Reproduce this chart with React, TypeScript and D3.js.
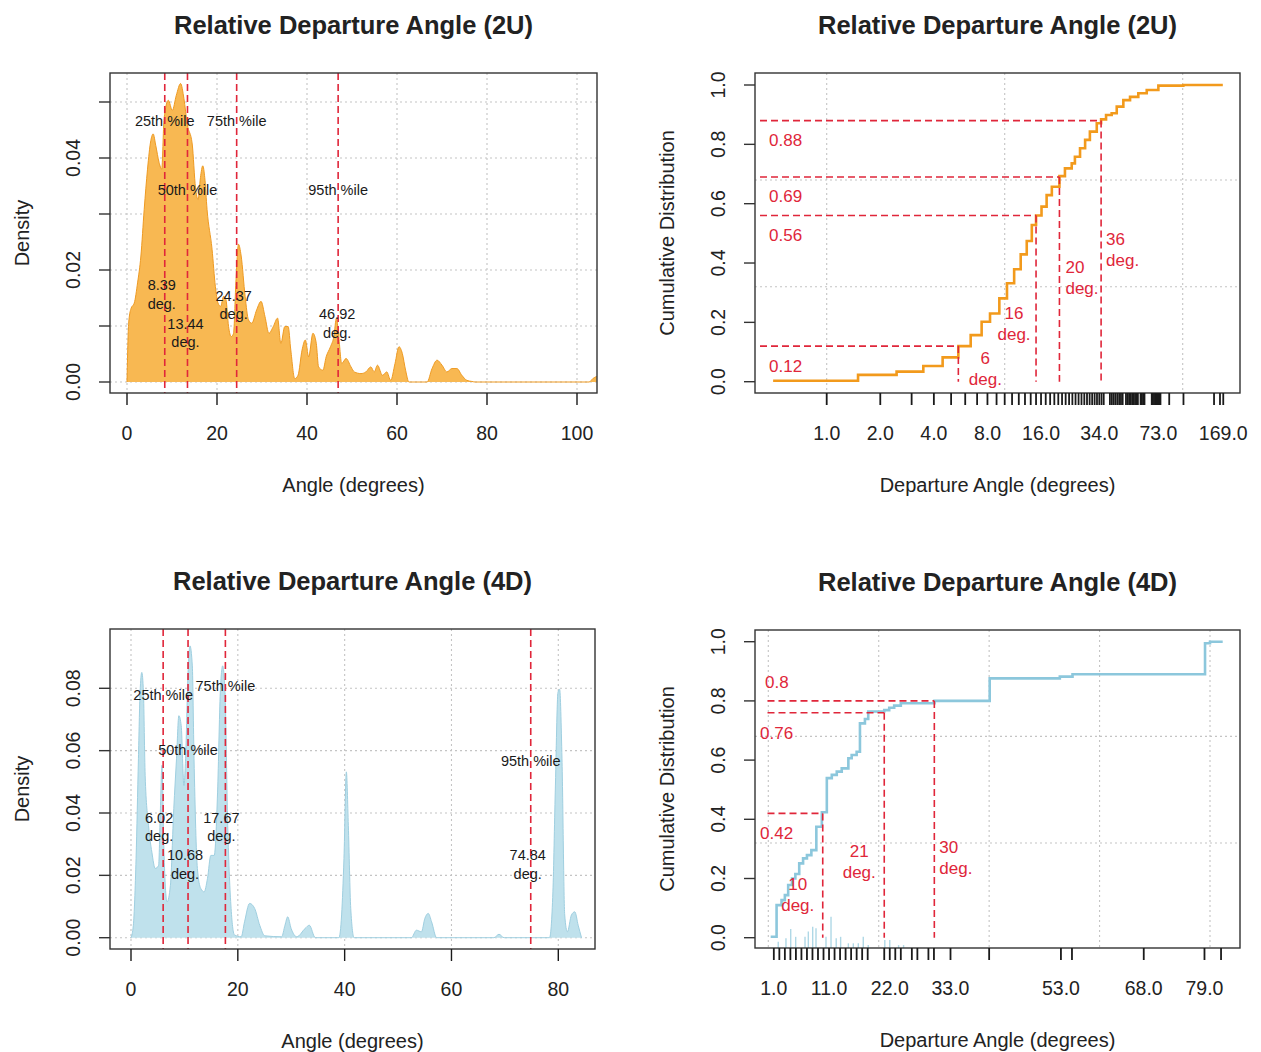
import React from 'react';
import * as d3 from 'd3';

// ---------- data ----------
// kernel density, 2U (angle in degrees, density)
const density2U: [number, number][] = [
  [0, 0], [0.37, 0.0105], [0.88, 0.0131], [1.62, 0.0141], [2.35, 0.0177], [3.09, 0.0225],
  [3.82, 0.0308], [4.56, 0.038], [5.29, 0.0431], [5.81, 0.0443], [6.4, 0.0422], [7.13, 0.0392],
  [7.72, 0.038], [8.24, 0.047], [9.19, 0.0503], [10.07, 0.0485], [10.96, 0.0512], [11.91, 0.0533],
  [12.65, 0.0506], [13.38, 0.0461], [14.49, 0.0425], [15.22, 0.0347], [15.81, 0.0326], [16.32, 0.0365],
  [16.84, 0.0386], [17.28, 0.0365], [17.79, 0.0308], [18.9, 0.0237], [19.63, 0.0171], [20.22, 0.0141],
  [20.81, 0.0135], [21.47, 0.0153], [21.99, 0.0147], [22.57, 0.0099], [23.16, 0.0081], [23.68, 0.0087],
  [24.19, 0.0177], [24.78, 0.0246], [25.37, 0.0225], [26.25, 0.0153], [26.99, 0.0111], [27.72, 0.0105],
  [28.82, 0.0129], [29.78, 0.0144], [30.66, 0.0117], [31.54, 0.0087], [32.5, 0.0099], [33.46, 0.0114],
  [34.19, 0.0069], [35.07, 0.0099], [35.81, 0.0099], [36.4, 0.0057], [37.28, 0.0006], [38.01, 0.0012],
  [38.9, 0.0057], [39.63, 0.0075], [40.37, 0.0045], [41.32, 0.0087], [42.06, 0.0069], [42.57, 0.0027],
  [43.53, 0.0021], [44.26, 0.0045], [45.22, 0.0063], [45.96, 0.0081], [46.54, 0.0114], [46.99, 0.0087],
  [47.72, 0.0033], [48.68, 0.0042], [49.78, 0.0027], [50.51, 0.0018], [51.99, 0.0015], [53.09, 0.0018],
  [54.19, 0.0027], [54.93, 0.0018], [55.66, 0.003], [56.76, 0.0012], [57.72, 0.0018], [58.6, 0.0003],
  [59.56, 0.0033], [60.44, 0.0063], [61.18, 0.0051], [61.91, 0.0021], [62.65, 0], [66.69, 0],
  [67.79, 0.0024], [68.9, 0.0039], [70.0, 0.003], [71.1, 0.0018], [72.21, 0.0024], [73.31, 0.0024],
  [74.41, 0.0012], [75.51, 0.0003], [76.62, 0.0001], [77.35, 0], [102.7, 0], [103.5, 0.0006], [104.4, 0.001],
];

// kernel density, 4D
const density4D: [number, number][] = [
  [0, 0], [0.44, 0.004], [0.95, 0.0254], [1.39, 0.0574], [1.7, 0.0787], [2.02, 0.0851], [2.33, 0.0787],
  [2.65, 0.0521], [3.28, 0.036], [3.91, 0.0274], [4.54, 0.0222], [5.17, 0.0232], [5.49, 0.0403],
  [5.8, 0.0553], [6.12, 0.0307], [6.75, 0.0115], [7.38, 0.0168], [8.01, 0.0414], [8.52, 0.0574],
  [8.96, 0.0712], [9.4, 0.068], [9.91, 0.0488], [10.22, 0.0574], [10.66, 0.084], [11.04, 0.0936],
  [11.48, 0.0872], [11.8, 0.0574], [12.43, 0.0222], [13.06, 0.0158], [13.69, 0.0147], [14.32, 0.019],
  [14.95, 0.0264], [15.58, 0.0264], [16.21, 0.0467], [16.72, 0.0787], [17.16, 0.0872], [17.6, 0.0787],
  [18.11, 0.036], [18.74, 0.0094], [19.37, 0.0009], [20.63, 0.0003], [21.26, 0.0051], [22.21, 0.011],
  [23.15, 0.0094], [24.1, 0.004], [25.05, 0.0006], [28.2, 0.0003], [28.83, 0.004], [29.34, 0.0067],
  [29.97, 0.003], [31.04, 0.0003], [32.62, 0.003], [33.38, 0.004], [34.51, 0], [38.93, 0],
  [39.43, 0.0073], [39.87, 0.0254], [40.32, 0.0532], [40.69, 0.036], [41.14, 0.0094], [41.77, 0],
  [52.49, 0], [53.44, 0.0024], [54.38, 0.0019], [55.02, 0.0062], [55.65, 0.0078], [56.28, 0.0051],
  [57.22, 0], [67.95, 0], [68.9, 0.0011], [69.84, 0], [78.36, 0], [78.99, 0.0147], [79.43, 0.0467],
  [79.94, 0.0787], [80.25, 0.0797], [80.69, 0.0574], [81.2, 0.0073], [81.7, 0.0019], [82.46, 0.0073],
  [83.09, 0.0083], [83.72, 0.004], [84.35, 0],
];

const pctNames = ['25th %ile', '50th %ile', '75th %ile', '95th %ile'];
const quantiles2U = [8.39, 13.44, 24.37, 46.92];
const quantiles4D = [6.02, 10.68, 17.67, 74.84];

// empirical CDF steps (angle, cumulative proportion)
const ecdf2U: [number, number][] = [
  [0.5, 0.003], [1.5, 0.023], [2.47, 0.034], [3.49, 0.053], [4.48, 0.082], [5.49, 0.12], [6.44, 0.157],
  [7.42, 0.202], [8.27, 0.23], [9.33, 0.281], [10.3, 0.332], [11.3, 0.379], [12.3, 0.429], [13.3, 0.474],
  [14.2, 0.528], [15.0, 0.56], [16.1, 0.59], [17.2, 0.629], [18.4, 0.657], [20.3, 0.693], [21.8, 0.719],
  [23.8, 0.736], [24.8, 0.758], [26.5, 0.787], [28.3, 0.815], [30.1, 0.843], [32.9, 0.871], [34.8, 0.884],
  [37.1, 0.899], [39.9, 0.905], [42.6, 0.927], [46.4, 0.949], [50.6, 0.96], [56.3, 0.972], [62.8, 0.983],
  [73, 0.998], [100.8, 1.0], [168, 1.0],
];
const ecdf4D: [number, number][] = [
  [0.43, 0.003], [1.5, 0.11], [2.4, 0.127], [3.0, 0.144], [3.6, 0.178], [4.3, 0.2], [4.9, 0.215],
  [5.6, 0.251], [6.3, 0.268], [7.0, 0.279], [7.8, 0.296], [8.7, 0.375], [9.7, 0.424], [10.6, 0.539],
  [11.5, 0.55], [12.4, 0.561], [13.3, 0.572], [14.5, 0.606], [15.1, 0.617], [16.0, 0.628], [16.6, 0.724],
  [17.5, 0.739], [18.1, 0.764], [21.0, 0.769], [21.9, 0.777], [22.8, 0.784], [24.0, 0.792], [30.1, 0.8],
  [40.1, 0.876], [52.8, 0.882], [55.1, 0.89], [79.1, 0.995], [80.0, 1.0], [82.3, 1.0],
];

// light-blue spikes at the bottom of the 4D CDF (angle, top)
const spikes4D: [number, number][] = [
  [1.8, -0.0135], [3.2, -0.002], [4.06, 0.029], [4.96, 0.003], [6.65, 0.003], [7.25, 0.021],
  [8.04, 0.037], [8.64, 0.032], [10.45, 0.003], [11.36, 0.071], [12.3, -0.002], [13.1, 0.003],
  [14.5, -0.019], [15.4, -0.019], [16.3, -0.019], [17.2, 0.003], [18.1, -0.025], [21.1, -0.008],
  [22.0, -0.008], [23.6, -0.025], [24.5, -0.025],
];

const cdfProb2U = [0.12, 0.56, 0.69, 0.88];
const cdfAngle2U = [5.49, 15.0, 20.3, 34.8];
const cdfDeg2U = ['6', '16', '20', '36'];
const cdfProb4D = [0.42, 0.76, 0.8];
const cdfAngle4D = [9.86, 21.0, 30.07];
const cdfDeg4D = ['10', '21', '30'];

// axis ticks at observed angles
const rugTicks2U = [
  ...d3.range(1, 37), ...d3.range(39, 47), ...d3.range(48, 57), ...d3.range(58, 62), ...d3.range(67, 76),
  84, 101, 150, 162, 169,
];
const rugLabels2U = [1, 2, 4, 8, 16, 34, 73, 169];
const rugTicks4D = [...d3.range(1, 19), 21, 22, 23, 24, 26, 27, 29, 30, 33, 40, 53, 55, 68, 79, 82];
const rugLabels4D = [1, 11, 22, 33, 53, 68, 79];

const dens2UTicks = [0, 0.01, 0.02, 0.03, 0.04, 0.05];
const dens2ULabels = [0, 0.02, 0.04];
const dens4DTicks = [0, 0.02, 0.04, 0.06, 0.08];
const angleTicks2U = [0, 20, 40, 60, 80, 100];
const angleTicks4D = [0, 20, 40, 60, 80];
const cdfTicks = [0, 0.2, 0.4, 0.6, 0.8, 1.0];

// ---------- label layout ----------
const pctLabelY2U = [0.0466, 0.0343, 0.0466, 0.0343];
const valLabelY2U = [0.0173, 0.0104, 0.0154, 0.0121];
const valDx2U = [-3, -2, -3, -1];
const pctLabelY4D = [0.0778, 0.0602, 0.0808, 0.0567];
const valLabelY4D = [0.0384, 0.0265, 0.0384, 0.0265];
const valDx4D = [-4, -3, -4, -3];

const degLayout2U = [
  { anchor: 'middle', dx: 27, p: 0.08 },
  { anchor: 'middle', dx: -22, p: 0.2316 },
  { anchor: 'start', dx: 6, p: 0.387 },
  { anchor: 'start', dx: 5, p: 0.481 },
];
const probDy2U = [20, 20, 20, 20];
const degLayout4D = [
  { anchor: 'middle', dx: -25, p: 0.18 },
  { anchor: 'middle', dx: -25, p: 0.293 },
  { anchor: 'start', dx: 5, p: 0.307 },
];
const probDy4D = [20, 21, -18];

const FONT = "'Liberation Sans', Arial, Helvetica, sans-serif";
const RED = '#E0263A';
const GRID = '#C4C4C4';

type Box = { l: number; r: number; t: number; b: number };

function Frame({ box }: { box: Box }) {
  return (
    <rect x={box.l} y={box.t} width={box.r - box.l} height={box.b - box.t}
      fill="none" stroke="#333" strokeWidth={1.4} />
  );
}

function Titles({ box, title, xTitle, yTitle }: { box: Box; title: string; xTitle: string; yTitle: string }) {
  const cx = (box.l + box.r) / 2;
  const cy = (box.t + box.b) / 2;
  const yx = box.l - 88;
  return (
    <g fontFamily={FONT} fill="#222">
      <text x={cx} y={box.t - 48} textAnchor="middle" dominantBaseline="central"
        fontSize={25.5} fontWeight="bold">{title}</text>
      <text x={cx} y={box.b + 92} textAnchor="middle" dominantBaseline="central" fontSize={20}>{xTitle}</text>
      <text transform={`translate(${yx},${cy}) rotate(-90)`} textAnchor="middle"
        dominantBaseline="central" fontSize={20}>{yTitle}</text>
    </g>
  );
}

function YAxis({ box, y, ticks, labels, fmt }: any) {
  return (
    <g fontFamily={FONT} fill="#222">
      {ticks.map((t: number) => (
        <line key={'t' + t} x1={box.l} x2={box.l - 11} y1={y(t)} y2={y(t)} stroke="#333" strokeWidth={1.4} />
      ))}
      {labels.map((t: number) => (
        <text key={'l' + t} transform={`translate(${box.l - 37},${y(t)}) rotate(-90)`}
          textAnchor="middle" dominantBaseline="central" fontSize={19.5}>{fmt(t)}</text>
      ))}
    </g>
  );
}

function XAxis({ box, x, ticks, labels, fmt, tickWidth }: any) {
  return (
    <g fontFamily={FONT} fill="#222">
      {ticks.map((t: number) => (
        <line key={'t' + t} x1={x(t)} x2={x(t)} y1={box.b} y2={box.b + 12} stroke="#1a1a1a" strokeWidth={tickWidth || 1.4} />
      ))}
      {labels.map((t: number) => (
        <text key={'l' + t} x={x(t)} y={box.b + 40} textAnchor="middle" dominantBaseline="central"
          fontSize={19.5}>{fmt(t)}</text>
      ))}
    </g>
  );
}

function Grid({ box, x, y, xs, ys }: any) {
  return (
    <g stroke={GRID} strokeWidth={1.1} strokeDasharray="2,3">
      {xs.map((v: number) => <line key={'x' + v} x1={x(v)} x2={x(v)} y1={box.t} y2={box.b} />)}
      {ys.map((v: number) => <line key={'y' + v} x1={box.l} x2={box.r} y1={y(v)} y2={y(v)} />)}
    </g>
  );
}

function DensityPanel(props: any) {
  const { id, box, x, y, data, fill, stroke, quant, pctY, valY, valDx, xTicks, yTicks, yLabels, title } = props;
  const area = d3.area<[number, number]>().x(d => x(d[0])).y0(y(0)).y1(d => y(d[1])).curve(d3.curveMonotoneX);
  const line = d3.line<[number, number]>().x(d => x(d[0])).y(d => y(d[1])).curve(d3.curveMonotoneX);
  const f2 = d3.format('.2f');
  return (
    <g>
      <defs>
        <clipPath id={id}><rect x={box.l} y={box.t} width={box.r - box.l} height={box.b - box.t} /></clipPath>
      </defs>
      <Grid box={box} x={x} y={y} xs={xTicks} ys={yTicks} />
      <g clipPath={`url(#${id})`}>
        <path d={area(data) || ''} fill={fill} />
        <path d={line(data) || ''} fill="none" stroke={stroke} strokeWidth={1} />
        {quant.map((q: number, i: number) => (
          <line key={i} x1={x(q)} x2={x(q)} y1={box.t} y2={box.b} stroke={RED} strokeWidth={1.6} strokeDasharray="7,4" />
        ))}
      </g>
      <g fontFamily={FONT} fill="#1a1a1a" fontSize={14.5} textAnchor="middle">
        {quant.map((q: number, i: number) => (
          <text key={'p' + i} x={x(q)} y={y(pctY[i])} dominantBaseline="central">{pctNames[i]}</text>
        ))}
        {quant.map((q: number, i: number) => (
          <text key={'v' + i} x={x(q) + valDx[i]} y={y(valY[i])} dominantBaseline="central">
            <tspan x={x(q) + valDx[i]}>{f2(q)}</tspan>
            <tspan x={x(q) + valDx[i]} dy={18.5}>deg.</tspan>
          </text>
        ))}
      </g>
      <Frame box={box} />
      <XAxis box={box} x={x} ticks={xTicks} labels={xTicks} fmt={(v: number) => String(v)} />
      <YAxis box={box} y={y} ticks={yTicks} labels={yLabels} fmt={f2} />
      <Titles box={box} title={title} xTitle="Angle (degrees)" yTitle="Density" />
    </g>
  );
}

function EcdfPanel(props: any) {
  const { id, box, x, y, data, color, rug, rugLabels, xGrid, probs, angles, degs, degLayout, probDy,
    segStart, probTextX, spikes, title } = props;
  const line = d3.line<[number, number]>().x(d => x(d[0])).y(d => y(d[1])).curve(d3.curveStepAfter);
  const f1 = d3.format('.1f');
  return (
    <g>
      <defs>
        <clipPath id={id}><rect x={box.l} y={box.t} width={box.r - box.l} height={box.b - box.t} /></clipPath>
      </defs>
      <Grid box={box} x={x} y={y} xs={xGrid} ys={[0.32, 0.68]} />
      <g clipPath={`url(#${id})`}>
        {(spikes || []).map((s: [number, number], i: number) => (
          <line key={'s' + i} x1={x(s[0])} x2={x(s[0])} y1={box.b} y2={y(s[1])} stroke="#AFD8E6" strokeWidth={1.4} />
        ))}
        <path d={line(data) || ''} fill="none" stroke={color} strokeWidth={2.6} />
        {probs.map((p: number, i: number) => (
          <g key={i} stroke={RED} strokeWidth={1.6} strokeDasharray="7,4" fill="none">
            <line x1={segStart} x2={x(angles[i])} y1={y(p)} y2={y(p)} />
            <line x1={x(angles[i])} x2={x(angles[i])} y1={y(p)} y2={y(0)} />
          </g>
        ))}
      </g>
      <g fontFamily={FONT} fill={RED} fontSize={17}>
        {probs.map((p: number, i: number) => (
          <text key={'p' + i} x={probTextX[i]} y={y(p) + probDy[i]} dominantBaseline="central">{String(p)}</text>
        ))}
        {degs.map((d: string, i: number) => {
          const lx = x(angles[i]) + degLayout[i].dx;
          return (
            <text key={'d' + i} x={lx} y={y(degLayout[i].p)} textAnchor={degLayout[i].anchor} dominantBaseline="central">
              <tspan x={lx}>{d}</tspan>
              <tspan x={lx} dy={21}>deg.</tspan>
            </text>
          );
        })}
      </g>
      <Frame box={box} />
      <XAxis box={box} x={x} ticks={rug} labels={rugLabels} fmt={f1} tickWidth={1.8} />
      <YAxis box={box} y={y} ticks={cdfTicks} labels={cdfTicks} fmt={f1} />
      <Titles box={box} title={title} xTitle="Departure Angle (degrees)" yTitle="Cumulative Distribution" />
    </g>
  );
}

export default function App() {
  const box1: Box = { l: 110, r: 597, t: 73, b: 393 };
  const box2: Box = { l: 755, r: 1240, t: 73, b: 393 };
  const box3: Box = { l: 110, r: 595, t: 629, b: 949 };
  const box4: Box = { l: 755, r: 1240, t: 630, b: 948 };

  const x1 = d3.scaleLinear().domain([0, 100]).range([127, 577]);
  const y1 = d3.scaleLinear().domain([0, 0.05]).range([382, 102]);
  const x3 = d3.scaleLinear().domain([0, 80]).range([131, 558.3]);
  const y3 = d3.scaleLinear().domain([0, 0.08]).range([937.7, 688.3]);
  const x2 = d3.scaleLog().domain([1, 100]).range([826.7, 1182.7]);
  const y2 = d3.scaleLinear().domain([0, 1]).range([381.7, 85]);
  const x4 = d3.scaleLinear().domain([0, 80]).range([768.3, 1210]);
  const y4 = d3.scaleLinear().domain([0, 1]).range([937.7, 641.7]);

  return (
    <svg width={1261} height={1052} style={{ position: 'absolute', left: 0, top: 0, background: '#fff' }}>
      <rect width={1261} height={1052} fill="#fff" />
      <DensityPanel id="c1" title="Relative Departure Angle (2U)" box={box1} x={x1} y={y1} data={density2U}
        fill="#F8B852" stroke="#EE9A22" quant={quantiles2U} pctY={pctLabelY2U} valY={valLabelY2U} valDx={valDx2U}
        xTicks={angleTicks2U} yTicks={dens2UTicks} yLabels={dens2ULabels} />
      <DensityPanel id="c3" title="Relative Departure Angle (4D)" box={box3} x={x3} y={y3} data={density4D}
        fill="#BFE1EC" stroke="#9FCFE0" quant={quantiles4D} pctY={pctLabelY4D} valY={valLabelY4D} valDx={valDx4D}
        xTicks={angleTicks4D} yTicks={dens4DTicks} yLabels={dens4DTicks} />
      <EcdfPanel id="c2" title="Relative Departure Angle (2U)" box={box2} x={x2} y={y2} data={ecdf2U}
        color="#F29A1C" rug={rugTicks2U} rugLabels={rugLabels2U} xGrid={[1, 10, 100]}
        probs={cdfProb2U} angles={cdfAngle2U} degs={cdfDeg2U} degLayout={degLayout2U} probDy={probDy2U}
        segStart={760} probTextX={[769, 769, 769, 769]} />
      <EcdfPanel id="c4" title="Relative Departure Angle (4D)" box={box4} x={x4} y={y4} data={ecdf4D}
        color="#8CC7DC" rug={rugTicks4D} rugLabels={rugLabels4D} xGrid={[0, 20, 40, 60, 80]}
        probs={cdfProb4D} angles={cdfAngle4D} degs={cdfDeg4D} degLayout={degLayout4D} probDy={probDy4D}
        segStart={767.5} probTextX={[760, 760, 765]} spikes={spikes4D} />
    </svg>
  );
}
